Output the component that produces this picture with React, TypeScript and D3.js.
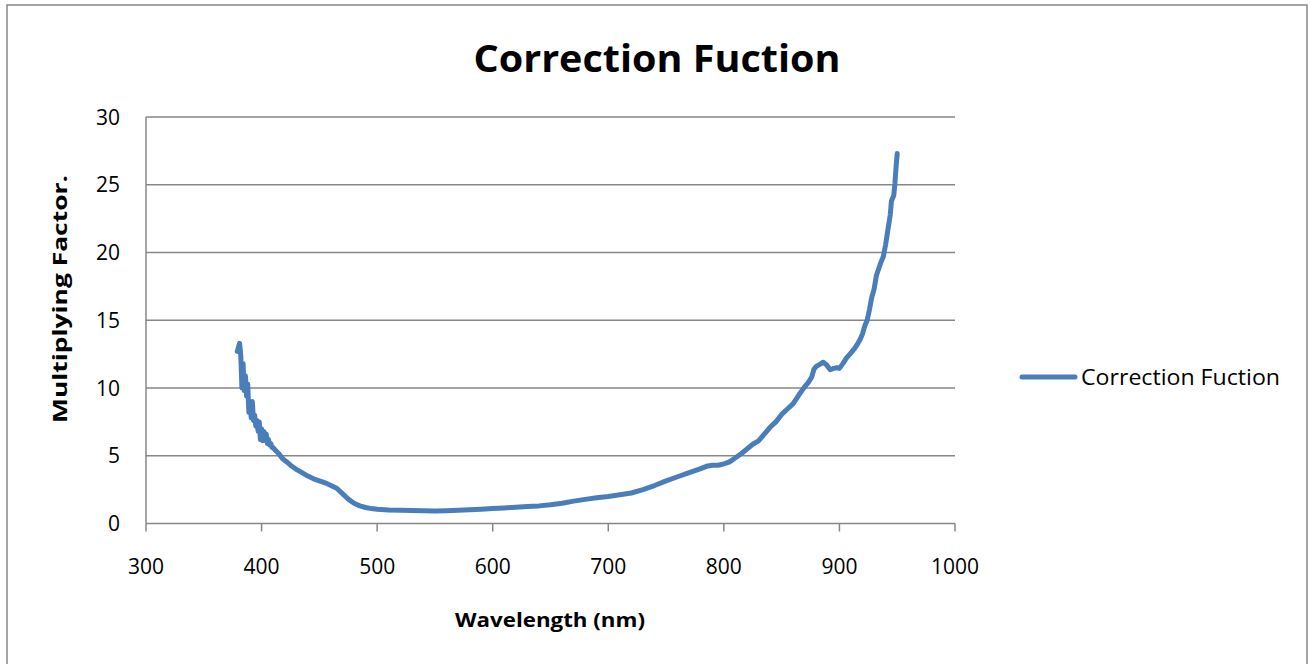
import React from "react";
import * as d3 from "d3";

const wavelengths = [
  379, 380, 381, 382, 383, 384, 385, 386, 387, 388, 389, 390, 391, 392, 393, 394, 395, 396, 397, 398, 399,
  400, 401, 402, 403, 404, 405, 406, 407, 408, 409, 410, 412, 415, 418, 421, 425, 430, 435, 440, 445, 450,
  455, 460, 465, 470, 475, 480, 485, 490, 495, 500, 510, 520, 530, 540, 550, 560, 570, 580, 590, 600, 610,
  620, 630, 640, 650, 660, 670, 680, 690, 700, 710, 720, 730, 740, 750, 760, 770, 780, 785, 790, 795, 800,
  805, 810, 815, 820, 825, 830, 835, 840, 845, 850, 855, 860, 865, 870, 873, 876, 878, 880, 883, 886, 889,
  892, 895, 898, 900, 903, 906, 910, 913, 916, 918, 920, 922, 924, 926, 928, 930, 932, 934, 936, 938, 940,
  942, 944, 945, 947, 948, 949, 950,
];
const factors = [
  12.7, 13.0, 13.3, 12.4, 10.0, 11.8, 9.8, 10.9, 9.4, 10.3, 8.2, 9.0, 7.8, 9.0, 7.6, 8.0, 7.2, 7.6, 6.8, 7.5, 6.2,
  7.0, 6.1, 6.8, 6.2, 6.6, 5.9, 6.2, 5.8, 5.9, 5.6, 5.6, 5.4, 5.15, 4.8, 4.6, 4.3, 4.0, 3.75, 3.5, 3.3, 3.15,
  3.0, 2.8, 2.6, 2.2, 1.8, 1.5, 1.3, 1.18, 1.1, 1.05, 1.0, 0.98, 0.96, 0.94, 0.93, 0.95, 0.98, 1.02, 1.06, 1.1, 1.15,
  1.2, 1.25, 1.3, 1.38, 1.5, 1.65, 1.78, 1.9, 2.0, 2.12, 2.25, 2.5, 2.8, 3.15, 3.45, 3.75, 4.05, 4.22, 4.3, 4.3, 4.4,
  4.55, 4.85, 5.15, 5.5, 5.85, 6.1, 6.6, 7.1, 7.5, 8.05, 8.45, 8.85, 9.5, 10.1, 10.4, 10.8, 11.4, 11.6, 11.75, 11.9, 11.7,
  11.35, 11.45, 11.5, 11.45, 11.8, 12.2, 12.6, 12.9, 13.3, 13.6, 14.0, 14.6, 15.0, 15.8, 16.7, 17.3, 18.3, 18.8, 19.3, 19.7, 20.6,
  21.7, 22.8, 23.8, 24.2, 25.1, 26.3, 27.3,
];
const xTicks = [300, 400, 500, 600, 700, 800, 900, 1000];
const yTicks = [0, 5, 10, 15, 20, 25, 30];
const seriesName = "Correction Fuction";
const chartTitle = "Correction Fuction";
const xTitle = "Wavelength (nm)";
const yTitle = "Multiplying Factor.";

export default function App() {
  const W = 1310;
  const H = 664;
  const left = 146, right = 955, top = 117, bottom = 523.5;
  const x = d3.scaleLinear().domain([300, 1000]).range([left, right]);
  const y = d3.scaleLinear().domain([0, 30]).range([bottom, top]);
  const data = wavelengths.map((w, i) => [w, factors[i]] as [number, number]);
  const line = d3.line<[number, number]>().x((d) => x(d[0])).y((d) => y(d[1]));
  const grid = "#878787";
  const blue = "#4A7EBB";
  const font = "'Open Sans', sans-serif";
  return (
    <svg width={W} height={H} style={{ position: "absolute", left: 0, top: 0 }} xmlns="http://www.w3.org/2000/svg">
      <rect x={0} y={0} width={W} height={H} fill="#fff" />
      <rect x={7} y={5} width={1300} height={662} fill="none" stroke="#868686" strokeWidth={1.5} />
      <text x={657} y={72} textAnchor="middle" fontFamily={font} fontWeight="bold" fontSize={37}
        textLength={367} lengthAdjust="spacingAndGlyphs" fill="#000">{chartTitle}</text>
      {yTicks.map((t) => (
        <g key={"y" + t}>
          {t > 0 && <line x1={left} x2={right} y1={y(t)} y2={y(t)} stroke={grid} strokeWidth={1.5} />}
          <text x={120} y={y(t) + 7.5} textAnchor="end" fontFamily={font} fontSize={21} fill="#000">{t}</text>
        </g>
      ))}
      <line x1={left} x2={left} y1={top} y2={bottom} stroke={grid} strokeWidth={1.5} />
      <line x1={left} x2={right} y1={bottom} y2={bottom} stroke={grid} strokeWidth={1.5} />
      {xTicks.map((t) => (
        <g key={"x" + t}>
          <line x1={x(t)} x2={x(t)} y1={bottom} y2={bottom + 8} stroke={grid} strokeWidth={1.5} />
          <text x={x(t)} y={574} textAnchor="middle" fontFamily={font} fontSize={21} fill="#000">{t}</text>
        </g>
      ))}
      <path d={line(data) || ""} fill="none" stroke={blue} strokeWidth={5} strokeLinejoin="round" strokeLinecap="round" />
      <text x={550} y={627} textAnchor="middle" fontFamily={font} fontWeight="bold" fontSize={20}
        textLength={190} lengthAdjust="spacingAndGlyphs" fill="#000">{xTitle}</text>
      <text transform="translate(67,299) rotate(-90)" textAnchor="middle" fontFamily={font} fontWeight="bold" fontSize={20}
        textLength={248} lengthAdjust="spacingAndGlyphs" fill="#000">{yTitle}</text>
      <line x1={1022} x2={1075} y1={377} y2={377} stroke={blue} strokeWidth={5} strokeLinecap="round" />
      <text x={1081} y={385} fontFamily={font} fontSize={21} textLength={199} lengthAdjust="spacingAndGlyphs" fill="#000">{seriesName}</text>
    </svg>
  );
}
